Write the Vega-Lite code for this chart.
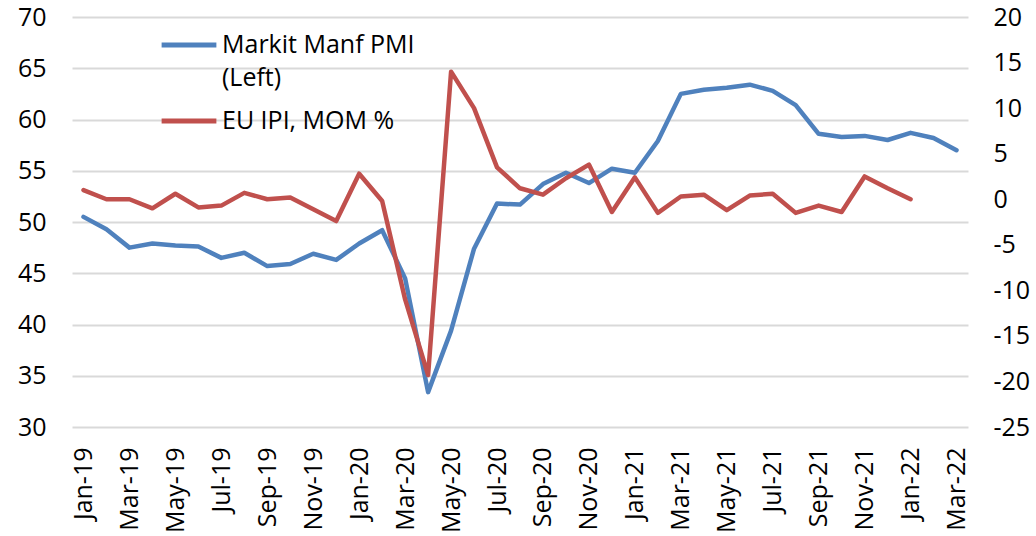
{
  "$schema": "https://vega.github.io/schema/vega-lite/v6.json",
  "autosize": "none",
  "width": 896,
  "height": 410,
  "padding": {"left": 72, "top": 17, "right": 68, "bottom": 109},
  "background": "white",
  "config": {
    "view": {"stroke": null},
    "font": "Open Sans",
    "style": {"guide-label": {"lineHeight": 33}},
    "axis": {"labelFont": "Open Sans", "labelColor": "#000000", "labelFontSize": 25, "domain": false, "ticks": false, "grid": false}
  },
  "data": {
    "values": [
      {"month": "Jan-19", "pmi": 50.5, "ipi": 1.0},
      {"month": "Feb-19", "pmi": 49.3, "ipi": 0.0},
      {"month": "Mar-19", "pmi": 47.5, "ipi": 0.0},
      {"month": "Apr-19", "pmi": 47.9, "ipi": -1.0},
      {"month": "May-19", "pmi": 47.7, "ipi": 0.6},
      {"month": "Jun-19", "pmi": 47.6, "ipi": -0.9},
      {"month": "Jul-19", "pmi": 46.5, "ipi": -0.7},
      {"month": "Aug-19", "pmi": 47.0, "ipi": 0.7},
      {"month": "Sep-19", "pmi": 45.7, "ipi": 0.0},
      {"month": "Oct-19", "pmi": 45.9, "ipi": 0.2},
      {"month": "Nov-19", "pmi": 46.9, "ipi": -1.1},
      {"month": "Dec-19", "pmi": 46.3, "ipi": -2.4},
      {"month": "Jan-20", "pmi": 47.9, "ipi": 2.8},
      {"month": "Feb-20", "pmi": 49.2, "ipi": -0.2},
      {"month": "Mar-20", "pmi": 44.5, "ipi": -11.0},
      {"month": "Apr-20", "pmi": 33.4, "ipi": -19.3},
      {"month": "May-20", "pmi": 39.4, "ipi": 14.0},
      {"month": "Jun-20", "pmi": 47.4, "ipi": 10.0},
      {"month": "Jul-20", "pmi": 51.8, "ipi": 3.5},
      {"month": "Aug-20", "pmi": 51.7, "ipi": 1.2},
      {"month": "Sep-20", "pmi": 53.7, "ipi": 0.5},
      {"month": "Oct-20", "pmi": 54.8, "ipi": 2.3},
      {"month": "Nov-20", "pmi": 53.8, "ipi": 3.8},
      {"month": "Dec-20", "pmi": 55.2, "ipi": -1.4},
      {"month": "Jan-21", "pmi": 54.8, "ipi": 2.4},
      {"month": "Feb-21", "pmi": 57.9, "ipi": -1.5},
      {"month": "Mar-21", "pmi": 62.5, "ipi": 0.3},
      {"month": "Apr-21", "pmi": 62.9, "ipi": 0.5},
      {"month": "May-21", "pmi": 63.1, "ipi": -1.2},
      {"month": "Jun-21", "pmi": 63.4, "ipi": 0.4},
      {"month": "Jul-21", "pmi": 62.8, "ipi": 0.6},
      {"month": "Aug-21", "pmi": 61.4, "ipi": -1.5},
      {"month": "Sep-21", "pmi": 58.6, "ipi": -0.7},
      {"month": "Oct-21", "pmi": 58.3, "ipi": -1.4},
      {"month": "Nov-21", "pmi": 58.4, "ipi": 2.5},
      {"month": "Dec-21", "pmi": 58.0, "ipi": 1.2},
      {"month": "Jan-22", "pmi": 58.7, "ipi": 0.0},
      {"month": "Feb-22", "pmi": 58.2, "ipi": null},
      {"month": "Mar-22", "pmi": 57.0, "ipi": null}
    ]
  },
  "encoding": {
    "x": {
      "field": "month",
      "type": "ordinal",
      "sort": null,
      "scale": {"type": "point", "padding": 0.5},
      "axis": {
        "title": null,
        "labelAngle": -90,
        "labelAlign": "right",
        "labelBaseline": "middle",
        "labelPadding": 20,
        "values": ["Jan-19","Mar-19","May-19","Jul-19","Sep-19","Nov-19","Jan-20","Mar-20","May-20","Jul-20","Sep-20","Nov-20","Jan-21","Mar-21","May-21","Jul-21","Sep-21","Nov-21","Jan-22","Mar-22"]
      }
    }
  },
  "layer": [
    {
      "mark": {"type": "line", "strokeWidth": 4.5, "strokeCap": "round", "strokeJoin": "round"},
      "encoding": {
        "y": {
          "field": "pmi",
          "type": "quantitative",
          "scale": {"domain": [30, 70], "nice": false, "zero": false},
          "axis": {"title": null, "orient": "left", "values": [30,35,40,45,50,55,60,65,70], "grid": true, "gridColor": "#d9d9d9", "gridWidth": 2, "labelPadding": 26}
        },
        "color": {
          "datum": "Markit Manf PMI (Left)",
          "type": "nominal",
          "scale": {"domain": ["Markit Manf PMI (Left)", "EU IPI, MOM %"], "range": ["#4F81BD", "#C0504D"]},
          "legend": {
            "title": null,
            "orient": "none",
            "legendX": 87,
            "legendY": -2,
            "symbolType": "stroke",
            "symbolSize": 3000,
            "symbolStrokeWidth": 5,
            "labelFont": "Open Sans",
            "labelFontSize": 25,
            "labelColor": "#000000",
            "labelOffset": 3,
            "rowPadding": 0,
            "labelLimit": 400,
            "labelExpr": "datum.label == 'Markit Manf PMI (Left)' ? ['Markit Manf PMI', '(Left)'] : datum.label"
          }
        }
      }
    },
    {
      "mark": {"type": "line", "strokeWidth": 4.5, "strokeCap": "round", "strokeJoin": "round"},
      "encoding": {
        "y": {
          "field": "ipi",
          "type": "quantitative",
          "scale": {"domain": [-25, 20], "nice": false, "zero": false},
          "axis": {"title": null, "orient": "right", "values": [-25,-20,-15,-10,-5,0,5,10,15,20], "labelPadding": 25, "labelAlign": "left", "labelExpr": "toString(datum.value)"}
        },
        "color": {"datum": "EU IPI, MOM %", "type": "nominal"}
      }
    }
  ],
  "resolve": {"scale": {"y": "independent"}}
}
